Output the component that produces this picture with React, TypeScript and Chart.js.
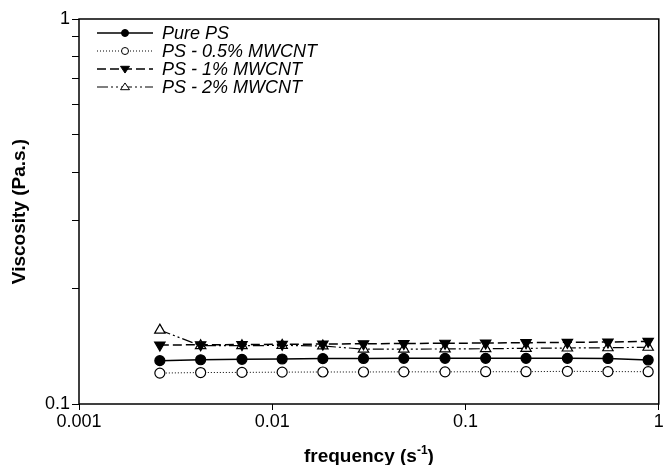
import React, { useEffect, useRef } from 'react';
import { Chart, registerables } from 'chart.js';
Chart.register(...registerables);

const frequency = [0.00262, 0.00426, 0.00697, 0.01125, 0.01827, 0.02965, 0.04794, 0.07834, 0.1271, 0.2056, 0.3365, 0.5456, 0.881];
const purePS = [0.1296, 0.1303, 0.1306, 0.1309, 0.1312, 0.1313, 0.1314, 0.1314, 0.1314, 0.1314, 0.1314, 0.1313, 0.1301];
const ps05 = [0.1203, 0.1207, 0.1208, 0.121, 0.1211, 0.1211, 0.1212, 0.1212, 0.1213, 0.1213, 0.1216, 0.1214, 0.1213];
const ps1 = [0.1423, 0.1425, 0.1427, 0.1429, 0.1431, 0.1434, 0.1436, 0.1438, 0.144, 0.1443, 0.1446, 0.1449, 0.1454];
const ps2 = [0.1556, 0.1417, 0.1417, 0.142, 0.1415, 0.1388, 0.1388, 0.139, 0.1392, 0.1395, 0.1398, 0.14, 0.1404];

const seriesNames = ['Pure PS', 'PS - 0.5% MWCNT', 'PS - 1% MWCNT', 'PS - 2% MWCNT'];
const xTicks = [0.001, 0.01, 0.1, 1];
const yTicks = [0.1, 0.2, 0.3, 0.4, 0.5, 0.6, 0.7, 0.8, 0.9, 1];
const yLabelTicks = [0.1, 1];
const xTitle = 'frequency (s';
const xTitleSup = '-1';
const xTitleEnd = ')';
const yTitle = 'Viscosity (Pa.s.)';

const FONT = '"Liberation Sans", Arial, sans-serif';

const styles = [
  { dash: [], width: 1.5, pointStyle: 'circle', fill: '#000', rotation: 0, radius: 5 },
  { dash: [1, 2], width: 1, pointStyle: 'circle', fill: '#fff', rotation: 0, radius: 5 },
  { dash: [9, 4], width: 1.5, pointStyle: 'triangle', fill: '#000', rotation: 180, radius: 6 },
  { dash: [11, 3, 2, 3, 2, 3], width: 1.2, pointStyle: 'triangle', fill: '#fff', rotation: 0, radius: 6 },
];

const mk = (vals: number[]) => frequency.map((f, i) => ({ x: f, y: vals[i] }));

const framePlugin = {
  id: 'frame',
  afterDraw(chart: any) {
    const { ctx, chartArea: a } = chart;
    ctx.save();
    ctx.strokeStyle = '#000';
    ctx.lineWidth = 1.5;
    ctx.strokeRect(a.left, a.top, a.right - a.left, a.bottom - a.top);
    // x title with superscript
    ctx.fillStyle = '#000';
    const big = `bold 19px ${FONT}`;
    const small = `bold 12px ${FONT}`;
    ctx.font = big;
    const w1 = ctx.measureText(xTitle).width;
    ctx.font = small;
    const w2 = ctx.measureText(xTitleSup).width;
    ctx.font = big;
    const w3 = ctx.measureText(xTitleEnd).width;
    const total = w1 + w2 + w3;
    const cx = (a.left + a.right) / 2;
    let x = cx - total / 2;
    const base = 462;
    ctx.textBaseline = 'alphabetic';
    ctx.textAlign = 'left';
    ctx.fillText(xTitle, x, base);
    x += w1;
    ctx.font = small;
    ctx.fillText(xTitleSup, x, base - 8);
    x += w2;
    ctx.font = big;
    ctx.fillText(xTitleEnd, x, base);
    // y title
    ctx.save();
    ctx.translate(20, (a.top + a.bottom) / 2);
    ctx.rotate(-Math.PI / 2);
    ctx.textAlign = 'center';
    ctx.textBaseline = 'middle';
    ctx.font = big;
    ctx.fillText(yTitle, 0, 0);
    ctx.restore();
    // legend
    const rows = [33, 51, 69, 87];
    seriesNames.forEach((name, i) => {
      const s = styles[i];
      const y = rows[i];
      ctx.save();
      ctx.strokeStyle = '#000';
      ctx.lineWidth = s.width;
      ctx.setLineDash(s.dash);
      ctx.beginPath();
      ctx.moveTo(97, y);
      ctx.lineTo(153, y);
      ctx.stroke();
      ctx.setLineDash([]);
      ctx.lineWidth = 1;
      ctx.fillStyle = s.fill;
      const mx = 125;
      const r = s.pointStyle === 'circle' ? 3.5 : 4.5;
      ctx.beginPath();
      if (s.pointStyle === 'circle') {
        ctx.arc(mx, y, r, 0, Math.PI * 2);
      } else if (s.rotation === 180) {
        ctx.moveTo(mx - r, y - r * 0.6);
        ctx.lineTo(mx + r, y - r * 0.6);
        ctx.lineTo(mx, y + r * 0.9);
        ctx.closePath();
      } else {
        ctx.moveTo(mx - r, y + r * 0.6);
        ctx.lineTo(mx + r, y + r * 0.6);
        ctx.lineTo(mx, y - r * 0.9);
        ctx.closePath();
      }
      ctx.fill();
      ctx.stroke();
      ctx.restore();
      ctx.fillStyle = '#000';
      ctx.font = `italic 18px ${FONT}`;
      ctx.textAlign = 'left';
      ctx.textBaseline = 'middle';
      ctx.fillText(name, 162, y + 1);
    });
    ctx.restore();
  },
};

export default function App() {
  const ref = useRef<HTMLCanvasElement>(null);
  useEffect(() => {
    const chart = new Chart(ref.current!, {
      type: 'line',
      data: {
        datasets: [purePS, ps05, ps1, ps2].map((vals, i) => ({
          label: seriesNames[i],
          data: mk(vals),
          borderColor: '#000',
          borderWidth: styles[i].width,
          borderDash: styles[i].dash,
          backgroundColor: styles[i].fill,
          pointBackgroundColor: styles[i].fill,
          pointBorderColor: '#000',
          pointBorderWidth: 1.2,
          pointStyle: styles[i].pointStyle as any,
          pointRotation: styles[i].rotation,
          pointRadius: styles[i].radius,
          tension: 0,
          fill: false,
        })),
      },
      options: {
        animation: false,
        responsive: false,
        devicePixelRatio: 1,
        layout: { padding: { top: 19, right: 3, left: 0, bottom: 0 } },
        plugins: { legend: { display: false }, tooltip: { enabled: false } },
        scales: {
          x: {
            type: 'logarithmic',
            min: 0.001,
            max: 1,
            afterBuildTicks: (s: any) => { s.ticks = xTicks.map((v) => ({ value: v })); },
            afterFit: (s: any) => { s.height = 61; },
            ticks: {
              autoSkip: false,
              maxRotation: 0,
              color: '#000',
              font: { family: FONT, size: 18 },
              padding: 1,
              callback: (v: any) => String(v),
            },
            grid: { drawOnChartArea: false, drawTicks: true, tickLength: 6, color: '#000', lineWidth: 1 },
            border: { display: false },
          },
          y: {
            type: 'logarithmic',
            min: 0.1,
            max: 1,
            afterBuildTicks: (s: any) => { s.ticks = yTicks.map((v) => ({ value: v })); },
            afterFit: (s: any) => { s.width = 79; },
            ticks: {
              autoSkip: false,
              color: '#000',
              font: { family: FONT, size: 18 },
              padding: 2,
              callback: (v: any) => (yLabelTicks.includes(v) ? String(v) : ''),
            },
            grid: { drawOnChartArea: false, drawTicks: true, tickLength: 7, color: '#000', lineWidth: 1 },
            border: { display: false },
          },
        },
      },
      plugins: [framePlugin],
    });
    return () => chart.destroy();
  }, []);
  return (
    <div style={{ position: 'fixed', left: 0, top: 0, width: 666, height: 465, background: '#fff' }}>
      <canvas ref={ref} width={666} height={465} />
    </div>
  );
}
